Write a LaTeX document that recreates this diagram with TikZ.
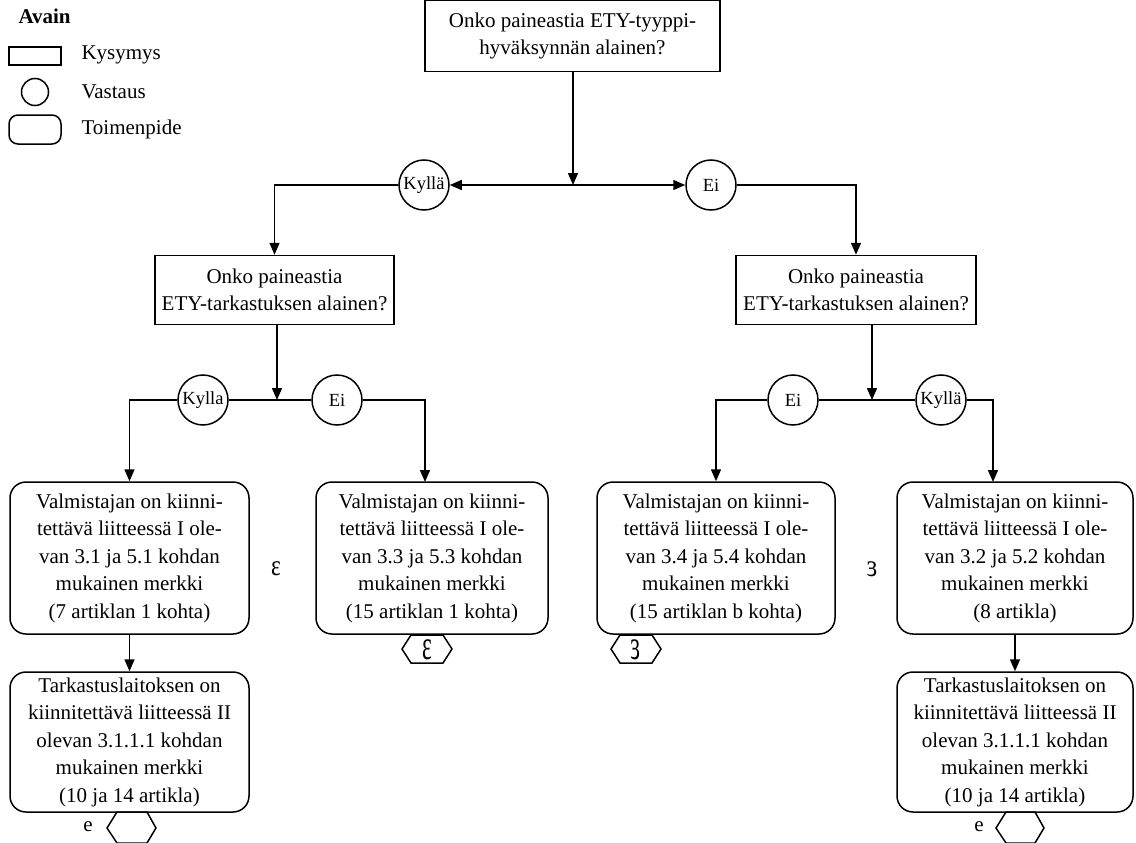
\documentclass[tikz,border=0pt]{standalone}
\usepackage{fontspec}
\usepackage{graphicx}
\setmainfont{Liberation Serif}
\usetikzlibrary{arrows.meta}
\begin{document}
\begin{tikzpicture}[x=1pt,y=-1pt,
  every node/.style={font=\fontsize{21}{27.5}\selectfont},
  ln/.style={line width=1.5pt},
  arr/.style={ln,-{Triangle[length=12pt,width=10pt]}},
  qbox/.style={draw,ln,rectangle,align=center,inner sep=0pt},
  ans/.style={draw,ln,circle,minimum size=50pt,inner sep=0pt,font=\fontsize{18.5}{20}\selectfont},
  act/.style={draw,ln,rounded corners=16pt,align=center,inner sep=0pt},
  hexa/.style={ln},
  sym/.style={inner sep=0pt},
]
\useasboundingbox (0,0) rectangle (1136,843);
% legend
\node[anchor=west,font=\fontsize{21}{24}\selectfont\bfseries] (leg) at (15,16) {Avain};
\node[draw,ln,minimum width=52pt,minimum height=18pt,inner sep=0pt] (lq) at (35,56) {};
\node[anchor=west] (lqt) at (78,55) {Kysymys};
\node[draw,ln,circle,minimum size=27pt,inner sep=0pt] (la) at (35,92) {};
\node[anchor=west] (lat) at (78,92) {Vastaus};
\node[draw,ln,rounded corners=9pt,minimum width=52pt,minimum height=29pt,inner sep=0pt] (lt) at (35,129.5) {};
\node[anchor=west] (ltt) at (78,129) {Toimenpide};
% top
\node[qbox,minimum width=295pt,minimum height=71pt] (q0) at (572.5,36) {Onko paineastia ETY-tyyppi-\\hyväksynnän alainen?};
\coordinate (j0) at (573,185);
\node[ans] (k1) at (424,185) {Kyllä};
\node[ans] (e1) at (711,185) {Ei};
\draw[arr] (q0.south -| j0) -- (j0);
\draw[ln,{Triangle[length=12pt,width=10pt]}-{Triangle[length=12pt,width=10pt]}] (k1.east) -- (e1.west);
% mid boxes
\node[qbox,minimum width=239pt,minimum height=69pt] (q1) at (274.5,290) {Onko paineastia\\ETY-tarkastuksen alainen?};
\node[qbox,minimum width=240pt,minimum height=69pt] (q2) at (856,290) {Onko paineastia\\ETY-tarkastuksen alainen?};
\draw[arr] (k1.west) -| (q1.north);
\draw[arr] (e1.east) -| (q2.north);
% left branch
\coordinate (j1) at (277,400);
\node[ans] (k2) at (203,400) {Kylla};
\node[ans] (e2) at (337,400) {Ei};
\draw[arr] (q1.south -| j1) -- (j1);
\draw[ln] (k2.east) -- (e2.west);
% right branch
\coordinate (j2) at (872,400);
\node[ans] (e3) at (793,400) {Ei};
\node[ans] (k3) at (941,400) {Kyllä};
\draw[arr] (q2.south -| j2) -- (j2);
\draw[ln] (e3.east) -- (k3.west);
% action boxes
\node[act,minimum width=239pt,minimum height=152pt] (a1) at (129.5,558) {Valmistajan on kiinni-\\tettävä liitteessä I ole-\\van 3.1 ja 5.1 kohdan\\mukainen merkki\\(7 artiklan 1 kohta)};
\node[act,minimum width=232pt,minimum height=152pt] (a2) at (432,558) {Valmistajan on kiinni-\\tettävä liitteessä I ole-\\van 3.3 ja 5.3 kohdan\\mukainen merkki\\(15 artiklan 1 kohta)};
\node[act,minimum width=238pt,minimum height=152pt] (a3) at (716,558) {Valmistajan on kiinni-\\tettävä liitteessä I ole-\\van 3.4 ja 5.4 kohdan\\mukainen merkki\\(15 artiklan b kohta)};
\node[act,minimum width=236pt,minimum height=152pt] (a4) at (1015,558) {Valmistajan on kiinni-\\tettävä liitteessä I ole-\\van 3.2 ja 5.2 kohdan\\mukainen merkki\\(8 artikla)};
\node[act,minimum width=239pt,minimum height=140pt] (a5) at (129.5,742) {Tarkastuslaitoksen on\\kiinnitettävä liitteessä II\\olevan 3.1.1.1 kohdan\\mukainen merkki\\(10 ja 14 artikla)};
\node[act,minimum width=236pt,minimum height=140pt] (a6) at (1015,742) {Tarkastuslaitoksen on\\kiinnitettävä liitteessä II\\olevan 3.1.1.1 kohdan\\mukainen merkki\\(10 ja 14 artikla)};
\coordinate (c2) at (425,482);
\coordinate (c4) at (993,482);
\draw[arr] (k2.west) -| (a1.north);
\draw[arr] (e2.east) -| (c2);
\draw[arr] (e3.west) -| (a3.north);
\draw[arr] (k3.east) -| (c4);
\draw[arr] (a1.south) -- (a5.north);
\draw[arr] (a4.south) -- (a6.north);
% symbols
\node[sym] (s1) at (276,569) {\scalebox{1.1}[1.4]{ε}};
\node[sym] (s2) at (872,569) {\scalebox{-1.2}[1.5]{ε}};
% hexagons
\draw[hexa] (402,649) -- (411,635) -- (443,635) -- (452,649) -- (443,663) -- (411,663) -- cycle;
\node[sym] (h1) at (427,649.5) {\scalebox{1.1}[2]{ε}};
\draw[hexa] (611,649) -- (620,635) -- (652,635) -- (661,649) -- (652,663) -- (620,663) -- cycle;
\node[sym] (h2) at (636,649.5) {\scalebox{-1.1}[2]{ε}};
\draw[hexa] (107,828) -- (117,812) -- (147,812) -- (156,828) -- (147,843) -- (117,843) -- cycle;
\node (e5) at (88,827) {e};
\draw[hexa] (996,828) -- (1006,812) -- (1035,812) -- (1044,828) -- (1035,843) -- (1006,843) -- cycle;
\node (e6) at (979,827) {e};
\end{tikzpicture}
\end{document}
